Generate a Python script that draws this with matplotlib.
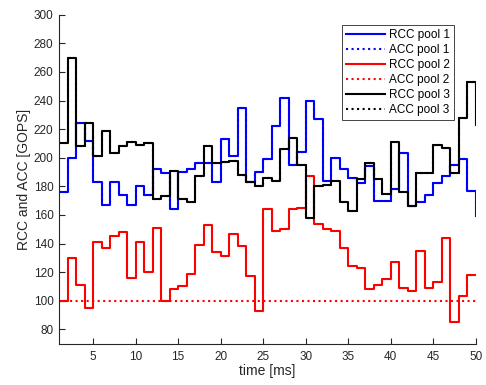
import matplotlib
matplotlib.use("Agg")
import matplotlib.pyplot as plt
import numpy as np

plt.rcParams['font.family'] = ['Liberation Sans', 'DejaVu Sans']

time_ms = list(range(1, 51))

rcc_pool1 = [176, 200, 224, 212, 183, 167, 183, 174, 167, 180,
             174, 192, 189, 164, 190, 192, 196, 196, 183, 213,
             201, 235, 183, 190, 199, 222, 242, 195, 204, 240,
             227, 184, 200, 192, 186, 182, 194, 170, 170, 178,
             203, 166, 169, 174, 182, 187, 195, 199, 177, 159]
acc_pool1 = list(rcc_pool1)

rcc_pool2 = [100, 130, 111, 95, 141, 137, 145, 148, 116, 141,
             120, 151, 100, 108, 110, 119, 139, 153, 134, 131,
             147, 138, 117, 93, 164, 149, 150, 164, 165, 187,
             154, 150, 149, 137, 124, 123, 108, 111, 115, 127,
             109, 107, 135, 109, 113, 144, 85, 103, 118, 118]
acc_pool2 = [100] * 50

rcc_pool3 = [210, 270, 208, 224, 201, 219, 203, 208, 211, 209,
             210, 171, 173, 191, 171, 169, 187, 208, 196, 197,
             198, 188, 183, 180, 186, 184, 206, 214, 195, 158,
             180, 181, 184, 169, 163, 185, 196, 185, 175, 211,
             176, 166, 189, 189, 209, 207, 189, 228, 253, 223]
acc_pool3 = list(rcc_pool3)

labels = ['RCC pool 1', 'ACC pool 1', 'RCC pool 2', 'ACC pool 2', 'RCC pool 3', 'ACC pool 3']

fig = plt.figure(figsize=(4.86, 3.85), dpi=100)
ax = fig.add_axes([0.1214, 0.1073, 0.979 - 0.1214, 0.9618 - 0.1073])

series = [(rcc_pool1, 'blue', '-'), (acc_pool1, 'blue', ':'),
          (rcc_pool2, 'red', '-'), (acc_pool2, 'red', ':'),
          (rcc_pool3, 'black', '-'), (acc_pool3, 'black', ':')]
for (vals, col, ls), lab in zip(series, labels):
    ax.step(time_ms, vals, where='post', color=col, linestyle=ls, lw=1.5, label=lab)

ax.set_xlim(1, 50)
ax.set_ylim(70, 300)
ax.set_xticks(np.arange(5, 51, 5))
ax.set_yticks(np.arange(80, 301, 20))
ax.tick_params(direction='in', length=4, width=0.8, colors='#262626', labelsize=8.5)
ax.tick_params(axis='x', pad=5)
ax.tick_params(axis='y', pad=4)
for s in ['top', 'right']:
    ax.spines[s].set_visible(False)
for s in ['left', 'bottom']:
    ax.spines[s].set_color('#262626')
    ax.spines[s].set_linewidth(0.8)

ax.set_xlabel('time [ms]', fontsize=10, color='#262626', labelpad=1)
ax.set_ylabel('RCC and ACC [GOPS]', fontsize=10, color='#262626', labelpad=2)

leg = ax.legend(loc='upper right', bbox_to_anchor=(0.947, 0.969), fontsize=8.5,
                handlelength=3.3, labelspacing=0.25, handletextpad=0.3,
                borderpad=0.35, fancybox=False, framealpha=1, borderaxespad=0)
leg.get_frame().set_edgecolor('#262626')
leg.get_frame().set_linewidth(0.6)

fig.savefig('out.png', dpi=100)
